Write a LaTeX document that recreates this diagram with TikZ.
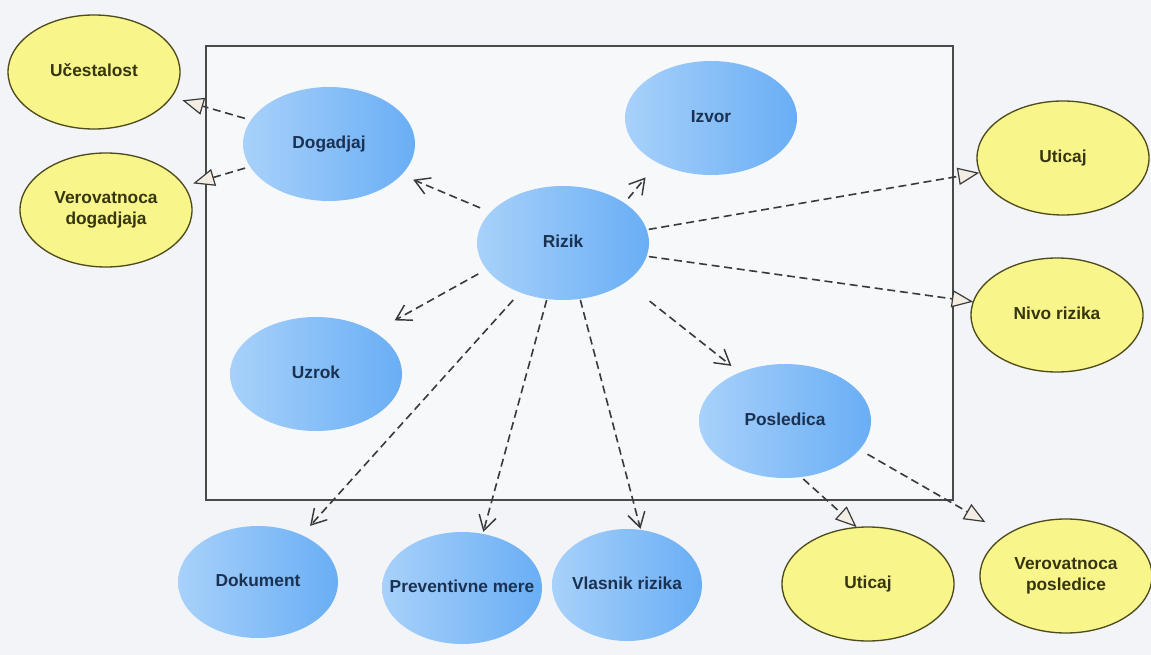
\documentclass[tikz,border=0pt]{standalone}
\usepackage{fontspec}
\setmainfont{Liberation Sans}
\usetikzlibrary{shapes.geometric,arrows.meta}

\definecolor{canvas}{HTML}{F2F4F7}
\definecolor{panel}{HTML}{F7F8FA}
\definecolor{frameline}{HTML}{4A4A4A}
\definecolor{ucLight}{HTML}{A8D1FA}
\definecolor{ucDark}{HTML}{69AEF5}
\definecolor{ucText}{HTML}{1B3152}
\definecolor{noteFill}{HTML}{F8F68A}
\definecolor{noteLine}{HTML}{4E4B1E}
\definecolor{noteText}{HTML}{36350F}
\definecolor{linkLine}{HTML}{3A3A3A}
\definecolor{triFill}{HTML}{F3EDE3}

\pgfdeclarelayer{bg}
\pgfdeclarelayer{links}
\pgfsetlayers{bg,links,main}

% label of zero width, so the ellipse keeps its own size
\newcommand\uclabel[1]{\makebox[0pt]{\begin{tabular}{@{}c@{}}#1\end{tabular}}}

\tikzset{
  x=0.75pt, y=-0.75pt,
  ovalbase/.style={ellipse, inner sep=0pt, outer sep=0pt,
    minimum width=129pt, minimum height=85.5pt,
    font=\fontsize{13}{15.5}\selectfont\bfseries},
  usecase/.style={ovalbase, left color=ucLight, right color=ucDark, text=ucText},
  attr/.style={ovalbase, draw=noteLine, line width=1pt, fill=noteFill, text=noteText},
  smalluc/.style={usecase, minimum width=120pt, minimum height=84pt},
  frame/.style={draw=frameline, fill=panel, line width=1.1pt, inner sep=0pt, outer sep=0pt,
    minimum width=560.25pt, minimum height=340.5pt},
  link/.style={draw=linkLine, line width=1.2pt, dash pattern=on 6pt off 3.5pt},
  dep/.style={link, -{Straight Barb[length=11pt,width=13pt,line width=1.1pt]}},
  gen/.style={link, -{Triangle[length=16pt,width=13pt,fill=triFill,line width=0.9pt]}},
}

\begin{document}
\begin{tikzpicture}
  \useasboundingbox (0,0) rectangle (1151,655);
  \begin{pgfonlayer}{bg}
    \fill[canvas] (0,0) rectangle (1151,655);
    \node[frame] (system) at (579.5,273) {};
  \end{pgfonlayer}

  % attributes (yellow)
  \node[attr] (uc)    at (94,72)    {\uclabel{Učestalost}};
  \node[attr] (verd)  at (106,210)  {\uclabel{Verovatnoca\\dogadjaja}};
  \node[attr] (uticR) at (1063,158) {\uclabel{Uticaj}};
  \node[attr] (nivo)  at (1057,315) {\uclabel{Nivo rizika}};
  \node[attr] (uticB) at (868,584)  {\uclabel{Uticaj}};
  \node[attr] (verp)  at (1066,576) {\uclabel{Verovatnoca\\posledice}};

  % use cases (blue)
  \node[usecase] (dog)   at (329,144) {\uclabel{Dogadjaj}};
  \node[usecase] (izvor) at (711,118) {\uclabel{Izvor}};
  \node[usecase] (rizik) at (563,243) {\uclabel{Rizik}};
  \node[usecase] (uzrok) at (316,374) {\uclabel{Uzrok}};
  \node[usecase] (posl)  at (785,421) {\uclabel{Posledica}};
  \node[smalluc] (dok)   at (258,582) {\uclabel{Dokument}};
  \node[smalluc] (prev)  at (462,588) {\uclabel{Preventivne mere}};
  \node[smalluc, minimum width=112.5pt] (vlas) at (627,585) {\uclabel{Vlasnik rizika}};

  \begin{pgfonlayer}{links}
    % dependencies of Rizik
    \draw[dep, shorten <=8.5pt, shorten >=9.6pt]  (rizik.157)  -- (dog.-23);
    \draw[dep, shorten <=4.6pt, shorten >=14.3pt] (rizik.33)   -- (izvor.-140);
    \draw[dep, shorten <=7.2pt, shorten >=17.7pt] (rizik.199)  -- (uzrok.36);
    \draw[dep, shorten <=23pt,  shorten >=8pt]    (rizik.-32)  -- (posl.133);
    \draw[dep, shorten <=7.7pt, shorten >=9.3pt]  (rizik.-131) -- (dok.47);
    \draw[dep, shorten <=0.8pt, shorten >=1.6pt]  (rizik.-106) -- (prev.69);
    \draw[dep, shorten <=0.8pt, shorten >=0.8pt]  (rizik.-73)  -- (vlas.76);
    % attribute links
    \draw[gen, shorten <=1.6pt, shorten >=0.5pt]  (rizik.9)    -- (uticR.190);
    \draw[gen, shorten <=1.7pt, shorten >=0.2pt]  (rizik.-9)   -- (nivo.171);
    \draw[gen, shorten <=4.7pt, shorten >=8.7pt]  (dog.163)    -- (uc.-18);
    \draw[gen, shorten <=3.9pt, shorten >=7.1pt]  (dog.196)    -- (verd.17);
    \draw[gen, shorten <=2.3pt, shorten >=0.4pt]  (posl.-74)   -- (uticB.101);
    \draw[gen, shorten <=7pt,   shorten >=18.6pt] (posl.-21)   -- (verp.145);
  \end{pgfonlayer}
\end{tikzpicture}
\end{document}
